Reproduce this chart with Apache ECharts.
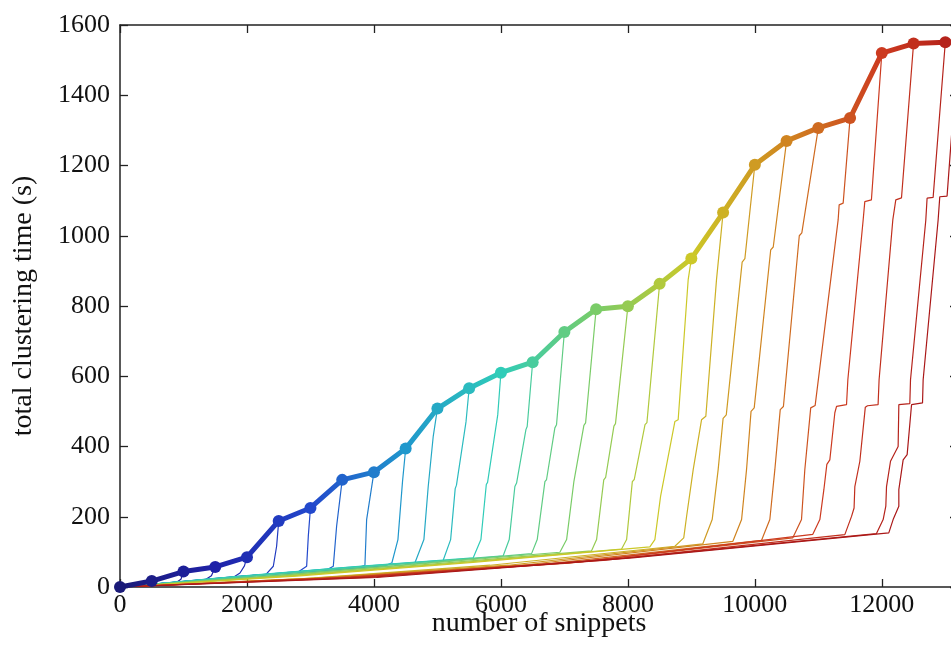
<!DOCTYPE html>
<html>
<head>
<meta charset="utf-8">
<script src="https://cdn.jsdelivr.net/npm/echarts@6/dist/echarts.min.js"></script>
<style>
  html, body { margin: 0; padding: 0; background: #fff; }
  #chart { width: 951px; height: 666px; }
</style>
</head>
<body>
<div id="chart"></div>
<script>
// total time for each run (thick line with dots)
const snippets = [0, 500, 1000, 1500, 2000, 2500, 3000, 3500, 4000, 4500, 5000, 5500, 6000, 6500,
  7000, 7500, 8000, 8500, 9000, 9500, 10000, 10500, 11000, 11500, 12000, 12500, 13000, 13500];
const totalTime = [0, 17, 44, 57, 85, 188, 225, 305, 327, 394, 508, 566, 610, 640,
  726, 791, 799, 863, 935, 1066, 1202, 1270, 1307, 1335, 1520, 1547, 1551, 1556];

// cumulative time inside each run, one curve per run size (thin lines)
const runSizes = [500, 1000, 1500, 2000, 2500, 3000, 3500, 4000, 4500, 5000, 5500, 6000, 6500,
  7000, 7500, 8000, 8500, 9000, 9500, 10000, 10500, 11000, 11500, 12000, 12500, 13000, 13500];
const runCurves = [
  [[0,0],[200,2],[400,6],[470,10],[500,17]],
  [[0,0],[300,3],[650,7],[880,12],[960,22],[1000,44]],
  [[0,0],[450,5],[950,12],[1330,19],[1440,32],[1500,57]],
  [[0,0],[600,9],[1200,18],[1780,27],[1890,40],[1960,60],[2000,85]],
  [[0,0],[770,12],[1530,24],[2300,36],[2415,59],[2467,116],[2500,188]],
  [[0,0],[930,15],[1870,30],[2800,42],[2940,59],[2966,144],[3000,225]],
  [[0,0],[1080,17],[2170,34],[3250,48],[3360,59],[3412,173],[3500,305]],
  [[0,0],[1240,19],[2480,37],[3720,53],[3858,62],[3885,192],[4000,327]],
  [[0,0],[1390,21],[2780,42],[4173,60],[4283,69],[4378,135],[4450,300],[4500,394]],
  [[0,0],[1550,25],[3100,48],[4646,69],[4787,135],[4855,286],[4934,429],[5000,508]],
  [[0,0],[1700,27],[3390,53],[5091,76],[5208,135],[5280,280],[5300,290],[5450,470],[5500,566]],
  [[0,0],[1850,30],[3710,58],[5564,83],[5685,135],[5770,292],[5790,298],[5950,490],[6000,610]],
  [[0,0],[2010,30],[4020,60],[6036,89],[6131,135],[6220,286],[6247,296],[6394,448],[6414,457],[6500,640]],
  [[0,0],[2160,29],[4320,61],[6483,95],[6572,135],[6693,300],[6719,306],[6850,453],[6876,462],[7000,726]],
  [[0,0],[2310,30],[4620,64],[6929,99],[7035,135],[7150,301],[7181,306],[7307,460],[7334,467],[7500,791]],
  [[0,0],[2480,30],[4950,66],[7428,103],[7507,135],[7620,305],[7650,312],[7780,458],[7805,465],[8000,799]],
  [[0,0],[2630,31],[5270,68],[7901,108],[7980,135],[8070,300],[8100,306],[8270,462],[8300,468],[8500,863]],
  [[0,0],[2780,31],[5560,70],[8346,114],[8425,135],[8515,258],[8740,471],[8792,476],[8950,875],[9000,935]],
  [[0,0],[2910,24],[5830,62],[8740,116],[8880,140],[8924,200],[9029,334],[9160,476],[9228,486],[9396,875],[9500,1066]],
  [[0,0],[3060,25],[6120,62],[9181,123],[9328,192],[9422,334],[9500,480],[9550,490],[9800,925],[9843,935],[10000,1202]],
  [[0,0],[3220,26],[6440,64],[9654,130],[9791,192],[9869,334],[9940,500],[9990,510],[10250,960],[10290,968],[10500,1270]],
  [[0,0],[3370,26],[6740,66],[10106,133],[10236,192],[10315,334],[10400,505],[10450,514],[10700,1000],[10740,1008],[11000,1307]],
  [[0,0],[3530,27],[7070,68],[10598,140],[10735,192],[10787,334],[10880,510],[10950,517],[11312,1045],[11328,1088],[11391,1093],[11500,1335]],
  [[0,0],[3640,28],[7280,72],[10913,150],[11024,192],[11087,277],[11134,349],[11181,362],[11260,496],[11287,514],[11444,519],[11465,590],[11706,1045],[11732,1097],[11836,1102],[12000,1520]],
  [[0,0],[3810,28],[7610,76],[11417,149],[11523,201],[11563,225],[11575,286],[11654,358],[11740,512],[11775,516],[11941,519],[11957,590],[12173,1045],[12220,1102],[12310,1108],[12500,1547]],
  [[0,0],[3970,28],[7940,82],[11916,152],[12021,192],[12063,230],[12074,286],[12137,358],[12257,400],[12268,519],[12441,522],[12452,590],[12693,1045],[12713,1107],[12808,1109],[13000,1551]],
  [[0,0],[4040,27],[8070,83],[12110,154],[12178,192],[12268,230],[12268,277],[12336,362],[12399,377],[12468,519],[12641,524],[12651,590],[12887,1045],[12913,1111],[13028,1113],[13100,1290],[13500,1556]]
];

// colour map along the number of snippets (0 .. 13500)
const palette = ['#1a1a78', '#1f22a8', '#2248cc', '#2098cc', '#30ccb8',
  '#7acc68', '#ccc828', '#d08420', '#cc3a20', '#aa1818'];
const xMax = 13500;

const chart = echarts.init(document.getElementById('chart'));
const serif = 'Liberation Serif';

const series = runCurves.map(function (pts, i) {
  return {
    type: 'line',
    data: pts,
    showSymbol: false,
    silent: true,
    lineStyle: { width: 1.2, color: echarts.color.lerp(runSizes[i] / xMax, palette) },
    z: 2
  };
});
series.push({
  type: 'line',
  data: snippets.map(function (x, i) { return [x, totalTime[i]]; }),
  symbol: 'circle',
  symbolSize: 12,
  lineStyle: { width: 5 },
  z: 5
});

function frameLine() {
  return { show: true, onZero: false, lineStyle: { color: '#222', width: 1.5 } };
}
function frameTick() {
  return { show: true, inside: true, length: 8, lineStyle: { color: '#222', width: 1.3 } };
}

chart.setOption({
  animation: false,
  // the frame runs a few pixels past the right edge of the picture
  grid: { left: 120, top: 25, width: 838, height: 562, outerBoundsMode: 'none', containLabel: false },
  visualMap: {
    show: false,
    type: 'continuous',
    dimension: 0,
    seriesIndex: runCurves.length,
    min: 0,
    max: xMax,
    inRange: { color: palette }
  },
  xAxis: [{
    type: 'value', min: 0, max: 13200, interval: 2000,
    name: 'number of snippets', nameLocation: 'middle', nameGap: 23, nameMoveOverlap: false,
    nameTextStyle: { fontFamily: serif, fontSize: 28, color: '#111' },
    axisLine: frameLine(), axisTick: frameTick(), splitLine: { show: false },
    axisLabel: { fontFamily: serif, fontSize: 26, color: '#111', margin: 5,
      formatter: function (v) { return v % 2000 === 0 ? String(v) : ''; } }
  }, {
    type: 'value', position: 'top', min: 0, max: 13200, interval: 2000,
    axisLine: frameLine(), axisTick: frameTick(), splitLine: { show: false },
    axisLabel: { show: false }
  }],
  yAxis: [{
    type: 'value', min: 0, max: 1600, interval: 200,
    name: 'total clustering time (s)', nameLocation: 'middle', nameGap: 82, nameMoveOverlap: false,
    nameTextStyle: { fontFamily: serif, fontSize: 28, color: '#111' },
    axisLine: frameLine(), axisTick: frameTick(), splitLine: { show: false },
    axisLabel: { fontFamily: serif, fontSize: 26, color: '#111', margin: 10,
      formatter: function (v) { return String(v); } }
  }, {
    type: 'value', position: 'right', min: 0, max: 1600, interval: 200,
    axisLine: frameLine(), axisTick: frameTick(), splitLine: { show: false },
    axisLabel: { show: false }
  }],
  series: series
});
window.addEventListener('resize', function () { chart.resize(); });
</script>
</body>
</html>
